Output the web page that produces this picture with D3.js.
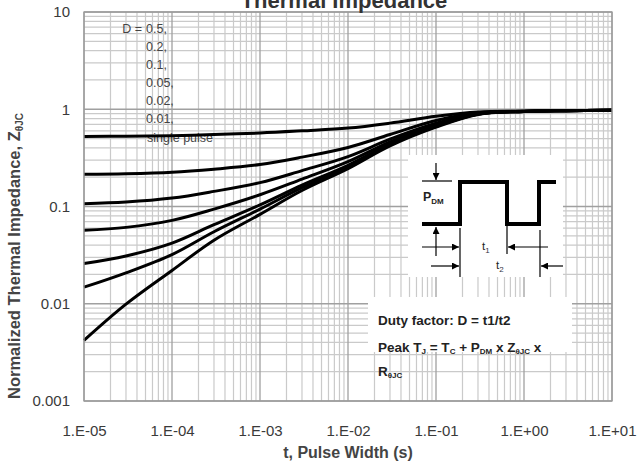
<!DOCTYPE html>
<html>
<head>
<meta charset="utf-8">
<script src="https://cdn.jsdelivr.net/npm/d3@7"></script>
<style>
  html, body { margin: 0; padding: 0; background: #fff; }
  svg { display: block; font-family: "Liberation Sans", Arial, sans-serif; }
</style>
</head>
<body>
<svg id="chart" width="641" height="472"></svg>
<script>
// Pulse widths (s) at which each curve is sampled
const pulseWidths = [1e-5, 3e-5, 1e-4, 3e-4, 1e-3, 3e-3, 1e-2, 3e-2, 1e-1, 3e-1, 1, 3, 10];

// Normalized thermal impedance Z_thetaJC per duty factor
const zD05    = [0.525, 0.528, 0.535, 0.55, 0.57, 0.6, 0.64, 0.72, 0.845, 0.935, 0.955, 0.968, 0.975];
const zD02    = [0.214, 0.217, 0.225, 0.242, 0.27, 0.322, 0.405, 0.55, 0.765, 0.918, 0.953, 0.967, 0.975];
const zD01    = [0.107, 0.111, 0.122, 0.143, 0.176, 0.234, 0.326, 0.492, 0.718, 0.906, 0.951, 0.966, 0.975];
const zD005   = [0.057, 0.061, 0.072, 0.094, 0.132, 0.191, 0.289, 0.462, 0.692, 0.9, 0.95, 0.965, 0.975];
const zD002   = [0.026, 0.031, 0.042, 0.065, 0.104, 0.166, 0.265, 0.441, 0.676, 0.895, 0.95, 0.965, 0.975];
const zD001   = [0.0148, 0.0208, 0.032, 0.055, 0.094, 0.156, 0.255, 0.431, 0.666, 0.89, 0.95, 0.965, 0.975];
const zSingle = [0.0042, 0.0099, 0.022, 0.045, 0.083, 0.146, 0.245, 0.42, 0.655, 0.885, 0.95, 0.965, 0.975];

const seriesList = [zD05, zD02, zD01, zD005, zD002, zD001, zSingle];

// Legend entries
const legendLabels = ["0.5,", "0.2,", "0.1,", "0.05,", "0.02,", "0.01,"];
const singleLabel = "single pulse";

// Axis ticks
const xTickValues = [1e-5, 1e-4, 1e-3, 1e-2, 1e-1, 1, 10];
const xTickLabels = ["1.E-05", "1.E-04", "1.E-03", "1.E-02", "1.E-01", "1.E+00", "1.E+01"];
const yTickValues = [0.001, 0.01, 0.1, 1, 10];
const yTickLabels = ["0.001", "0.01", "0.1", "1", "10"];

const svg = d3.select("#chart");
const plot = { left: 84, right: 612, top: 12, bottom: 401 };

const x = d3.scaleLog().domain([1e-5, 10]).range([plot.left, plot.right]);
const y = d3.scaleLog().domain([0.001, 10]).range([plot.bottom, plot.top]);

// ---- grid ----
const minorX = [];
for (let e = -5; e < 1; e++) for (let m = 2; m <= 9; m++) minorX.push(m * Math.pow(10, e));
const minorY = [];
for (let e = -3; e < 1; e++) for (let m = 2; m <= 9; m++) minorY.push(m * Math.pow(10, e));

const grid = svg.append("g");
grid.selectAll("line.mx").data(minorX).join("line")
  .attr("x1", d => x(d)).attr("x2", d => x(d))
  .attr("y1", plot.top).attr("y2", plot.bottom)
  .attr("stroke", "#cacaca").attr("stroke-width", 1.2);
grid.selectAll("line.my").data(minorY).join("line")
  .attr("y1", d => y(d)).attr("y2", d => y(d))
  .attr("x1", plot.left).attr("x2", plot.right)
  .attr("stroke", "#cacaca").attr("stroke-width", 1.2);
grid.selectAll("line.Mx").data(xTickValues).join("line")
  .attr("x1", d => x(d)).attr("x2", d => x(d))
  .attr("y1", plot.top).attr("y2", plot.bottom)
  .attr("stroke", "#a0a0a0").attr("stroke-width", 1.3);
grid.selectAll("line.My").data(yTickValues).join("line")
  .attr("y1", d => y(d)).attr("y2", d => y(d))
  .attr("x1", plot.left).attr("x2", plot.right)
  .attr("stroke", "#a0a0a0").attr("stroke-width", 1.3);

// ---- axes (labels only, lines come from the grid) ----
const xAxis = d3.axisBottom(x).tickValues(xTickValues)
  .tickFormat((d, i) => xTickLabels[i]).tickSize(0).tickPadding(0);
svg.append("g").attr("transform", `translate(0,${plot.bottom + 24})`).call(xAxis)
  .call(g => g.select(".domain").remove())
  .selectAll("text").attr("font-size", 15).attr("fill", "#3a3a3a")
  .attr("font-family", "Liberation Sans, Arial, sans-serif");

const yAxis = d3.axisLeft(y).tickValues(yTickValues)
  .tickFormat((d, i) => yTickLabels[i]).tickSize(0).tickPadding(0);
svg.append("g").attr("transform", `translate(${plot.left - 14},0)`).call(yAxis)
  .call(g => g.select(".domain").remove())
  .selectAll("text").attr("font-size", 15).attr("fill", "#3a3a3a")
  .attr("font-family", "Liberation Sans, Arial, sans-serif");

// ---- legend text ----
const legend = svg.append("g").attr("font-size", 12.5).attr("fill", "#444");
legend.append("text").attr("x", 142).attr("y", 33).attr("text-anchor", "end").text("D =");
legend.selectAll("text.lv").data(legendLabels).join("text")
  .attr("class", "lv").attr("x", 146).attr("y", (d, i) => 33 + i * 18).text(d => d);
legend.append("text").attr("x", 147).attr("y", 142).text(singleLabel);

// ---- curves ----
const line = d3.line()
  .x((d, i) => x(pulseWidths[i]))
  .y(d => y(d))
  .curve(d3.curveCatmullRom.alpha(0.5));
svg.append("g").selectAll("path").data(seriesList).join("path")
  .attr("d", line).attr("fill", "none")
  .attr("stroke", "#000").attr("stroke-width", 3);

// ---- plot frame ----
svg.append("rect").attr("x", plot.left).attr("y", plot.top)
  .attr("width", plot.right - plot.left).attr("height", plot.bottom - plot.top)
  .attr("fill", "none").attr("stroke", "#9a9a9a").attr("stroke-width", 1.3);

// ---- pulse waveform inset ----
const defs = svg.append("defs");
defs.append("marker").attr("id", "head").attr("viewBox", "0 0 10 10")
  .attr("refX", 10).attr("refY", 5).attr("markerWidth", 7).attr("markerHeight", 7)
  .attr("markerUnits", "userSpaceOnUse").attr("orient", "auto")
  .append("path").attr("d", "M0,0 L10,5 L0,10 Z").attr("fill", "#000");

const inset = svg.append("g");
inset.append("rect").attr("x", 408).attr("y", 155).attr("width", 155).attr("height", 122).attr("fill", "#fff");
inset.append("path").attr("d", "M422,224 H460 V182 H507 V224 H539 V182 H556")
  .attr("fill", "none").attr("stroke", "#000").attr("stroke-width", 4);
const thin = (x1, y1, x2, y2, arrow) => {
  const l = inset.append("line").attr("x1", x1).attr("y1", y1).attr("x2", x2).attr("y2", y2)
    .attr("stroke", "#000").attr("stroke-width", 1.2);
  if (arrow) l.attr("marker-end", "url(#head)");
};
thin(422, 181, 452, 181);
thin(436, 163, 436, 180, true);
thin(436, 256, 436, 227, true);
thin(460, 228, 460, 277);
thin(507, 226, 507, 254);
thin(540, 230, 540, 277);
thin(422, 247, 459, 247, true);
thin(548, 247, 508, 247, true);
thin(431, 266, 459, 266, true);
thin(563, 266, 541, 266, true);

const pdm = inset.append("text").attr("x", 423).attr("y", 201).attr("font-size", 12.5)
  .attr("font-weight", "bold").attr("fill", "#222");
pdm.append("tspan").text("P");
pdm.append("tspan").attr("font-size", 8).attr("dy", 3).text("DM");

const t1 = inset.append("text").attr("x", 482).attr("y", 250).attr("font-size", 11.5).attr("fill", "#222");
t1.append("tspan").text("t");
t1.append("tspan").attr("font-size", 8).attr("dy", 3).attr("fill", "#334").text("1");
const t2 = inset.append("text").attr("x", 496).attr("y", 269).attr("font-size", 11.5).attr("fill", "#222");
t2.append("tspan").text("t");
t2.append("tspan").attr("font-size", 8).attr("dy", 3).attr("fill", "#334").text("2");

// ---- duty factor note ----
const note = svg.append("g").attr("font-size", 13.5).attr("font-weight", "bold").attr("fill", "#222");
note.append("rect").attr("x", 368).attr("y", 297).attr("width", 204).attr("height", 55).attr("fill", "#fff");
note.append("text").attr("x", 378).attr("y", 325).text("Duty factor: D = t1/t2");
const peak = note.append("text").attr("x", 378).attr("y", 352);
peak.append("tspan").text("Peak T");
peak.append("tspan").attr("font-size", 8).attr("dy", 2).text("J");
peak.append("tspan").attr("dy", -2).text(" = T");
peak.append("tspan").attr("font-size", 8).attr("dy", 2).text("C");
peak.append("tspan").attr("dy", -2).text(" + P");
peak.append("tspan").attr("font-size", 8).attr("dy", 2).text("DM");
peak.append("tspan").attr("dy", -2).text(" x Z");
peak.append("tspan").attr("font-size", 8).attr("dy", 2).text("θJC");
peak.append("tspan").attr("dy", -2).text(" x");
const rj = note.append("text").attr("x", 378).attr("y", 376);
rj.append("tspan").text("R");
rj.append("tspan").attr("font-size", 8).attr("dy", 2).text("θJC");

// ---- titles ----
svg.append("text").attr("x", 344).attr("y", 8).attr("text-anchor", "middle")
  .attr("font-size", 22).attr("font-weight", "bold").attr("fill", "#333")
  .text("Thermal Impedance");

svg.append("text").attr("x", 348).attr("y", 458).attr("text-anchor", "middle")
  .attr("font-size", 16).attr("font-weight", "bold").attr("fill", "#444")
  .text("t, Pulse Width (s)");

const yt = svg.append("text").attr("transform", "translate(20,399) rotate(-90)")
  .attr("text-anchor", "start").attr("font-size", 16.5).attr("font-weight", "bold").attr("fill", "#444");
yt.append("tspan").text("Normalized Thermal Impedance, Z");
yt.append("tspan").attr("font-size", 10).attr("dy", 3).text("θJC");
</script>
</body>
</html>
